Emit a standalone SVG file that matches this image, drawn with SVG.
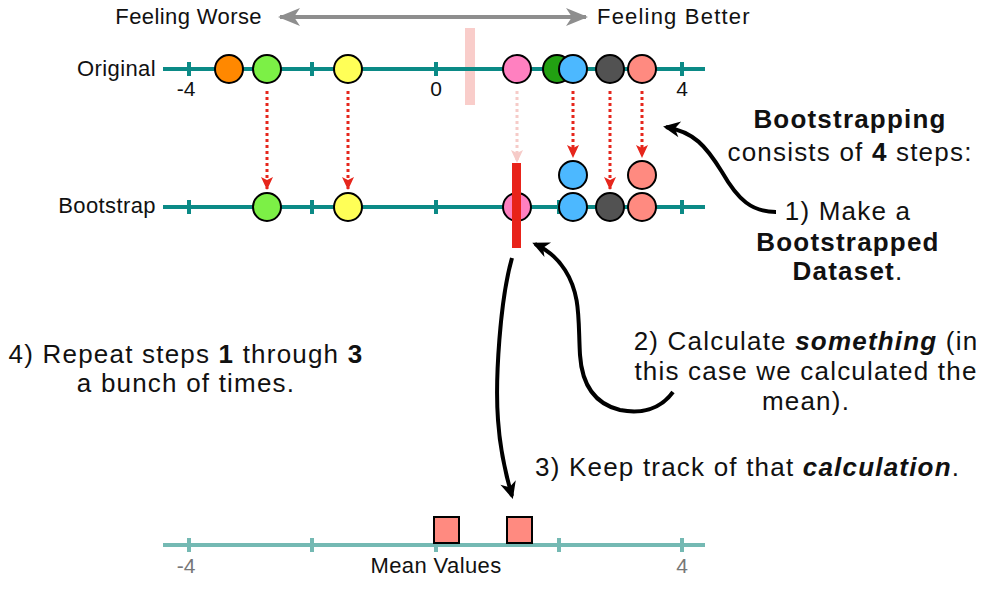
<svg xmlns="http://www.w3.org/2000/svg" width="1001" height="613" viewBox="0 0 1001 613">
<style>
text{font-family:"Liberation Sans",Arial,sans-serif;fill:#111}
.lbl{font-size:22px;letter-spacing:0.4px}
.num{font-size:21px;text-anchor:middle}
.big{font-size:26px;letter-spacing:1.2px}
.b{font-weight:bold}
.bi{font-weight:bold;font-style:italic}
.axis{stroke:#0b8a86;stroke-width:4;fill:none}
.axis2{stroke:#74b9b3;stroke-width:4;fill:none}
.dot{stroke:#000;stroke-width:2}
.dash{stroke:#e6261c;stroke-width:3;stroke-dasharray:3 3;fill:none}
.curve{stroke:#000;stroke-width:4;fill:none}
</style>
<defs>
<marker id="ah" markerUnits="userSpaceOnUse" markerWidth="20" markerHeight="20" viewBox="0 0 20 20" refX="15" refY="10" orient="auto">
<path d="M1,2 L18,10 L1,18 L6,10 z" fill="#000"/>
</marker>
<marker id="gh" markerUnits="userSpaceOnUse" markerWidth="24" markerHeight="24" viewBox="0 0 24 24" refX="20" refY="12" orient="auto-start-reverse">
<path d="M0,3 L22,12 L0,21 L6,12 z" fill="#8e8e8e"/>
</marker>
<marker id="rh" markerUnits="userSpaceOnUse" markerWidth="14" markerHeight="14" viewBox="0 0 14 14" refX="12" refY="7" orient="auto">
<path d="M0,1 L13,7 L0,13 L3,7 z" fill="#e6261c"/>
</marker>
<marker id="ph" markerUnits="userSpaceOnUse" markerWidth="14" markerHeight="14" viewBox="0 0 14 14" refX="12" refY="7" orient="auto">
<path d="M0,1 L13,7 L0,13 L3,7 z" fill="#f6cbc8"/>
</marker>
</defs>

<g id="header">
<text class="lbl" x="262" y="24" text-anchor="end">Feeling Worse</text>
<text class="lbl" x="597" y="24" style="letter-spacing:1.2px">Feeling Better</text>
<line x1="280" y1="17" x2="586" y2="17" stroke="#8e8e8e" stroke-width="4" marker-start="url(#gh)" marker-end="url(#gh)"/>
</g>

<g id="original-axis">
<rect x="465" y="28" width="10" height="77" fill="#f9cdca"/>
<text class="lbl" x="156" y="76" text-anchor="end">Original</text>
<line class="axis" x1="163" y1="69" x2="705" y2="69"/>
<path class="axis" d="M189,62V76M312,62V76M436,62V76M559,62V76M682,62V76"/>
<text class="num" x="186" y="96">-4</text>
<text class="num" x="436" y="96">0</text>
<text class="num" x="682" y="96">4</text>
<circle class="dot" cx="229" cy="69" r="14" fill="#ff8800"/>
<circle class="dot" cx="267" cy="69" r="14" fill="#7cf046"/>
<circle class="dot" cx="348" cy="69" r="14" fill="#ffff57"/>
<circle class="dot" cx="517" cy="69" r="14" fill="#ff80c0"/>
<circle class="dot" cx="557" cy="69" r="14" fill="#22a012"/>
<circle class="dot" cx="573" cy="69" r="14" fill="#4cb8ff"/>
<circle class="dot" cx="610" cy="69" r="14" fill="#525252"/>
<circle class="dot" cx="642" cy="69" r="14" fill="#ff8a80"/>
</g>

<g id="connectors">
<line class="dash" x1="267" y1="91" x2="267" y2="189" marker-end="url(#rh)"/>
<line class="dash" x1="348" y1="91" x2="348" y2="189" marker-end="url(#rh)"/>
<line class="dash" x1="517" y1="91" x2="517" y2="162" style="stroke:#f6cbc8" marker-end="url(#ph)"/>
<line class="dash" x1="573" y1="91" x2="573" y2="157" marker-end="url(#rh)"/>
<line class="dash" x1="610" y1="91" x2="610" y2="189" marker-end="url(#rh)"/>
<line class="dash" x1="642" y1="91" x2="642" y2="157" marker-end="url(#rh)"/>
<path class="curve" d="M776,212 C752,212 738,200 722,172 C706,146 694,132 666,127" marker-end="url(#ah)"/>
<path class="curve" d="M673,392 C660,410 640,414 620,410 C595,404 582,385 580,355 C578,320 581,295 565,270 C556,256 546,249 535,244" marker-end="url(#ah)"/>
<path class="curve" d="M512,258 C500,300 495,380 498,420 C500,450 505,472 512,496" marker-end="url(#ah)"/>
</g>

<g id="bootstrap-axis">
<text class="lbl" x="156" y="213" text-anchor="end">Bootstrap</text>
<line class="axis" x1="163" y1="207" x2="705" y2="207"/>
<path class="axis" d="M189,200V214M312,200V214M436,200V214M559,200V214M682,200V214"/>
<circle class="dot" cx="267" cy="207" r="14" fill="#7cf046"/>
<circle class="dot" cx="348" cy="207" r="14" fill="#ffff57"/>
<circle class="dot" cx="517" cy="207" r="14" fill="#ff80c0"/>
<circle class="dot" cx="573" cy="207" r="14" fill="#4cb8ff"/>
<circle class="dot" cx="573" cy="175" r="14" fill="#4cb8ff"/>
<circle class="dot" cx="610" cy="207" r="14" fill="#525252"/>
<circle class="dot" cx="642" cy="207" r="14" fill="#ff8a80"/>
<circle class="dot" cx="642" cy="175" r="14" fill="#ff8a80"/>
<rect x="512" y="163" width="9" height="85" fill="#e8231a"/>
</g>

<g id="mean-axis">
<line class="axis2" x1="163" y1="545" x2="705" y2="545"/>
<path class="axis2" d="M189,538V552M312,538V552M436,538V552M559,538V552M682,538V552"/>
<text class="num" x="186" y="573" style="fill:#777">-4</text>
<text class="num" x="682" y="573" style="fill:#777">4</text>
<text class="lbl" x="436" y="573" text-anchor="middle">Mean Values</text>
<rect x="434" y="517" width="25" height="26" fill="#ff8a80" stroke="#000" stroke-width="2"/>
<rect x="507" y="517" width="25" height="26" fill="#ff8a80" stroke="#000" stroke-width="2"/>
</g>

<g id="step-intro">
<text class="big b" x="850" y="128" text-anchor="middle">Bootstrapping</text>
<text class="big" x="850" y="161" text-anchor="middle">consists of <tspan class="b">4</tspan> steps:</text>
</g>
<g id="step1">
<text class="big" x="848" y="220" text-anchor="middle">1) Make a</text>
<text class="big b" x="848" y="251" text-anchor="middle">Bootstrapped</text>
<text class="big" x="848" y="280" text-anchor="middle"><tspan class="b">Dataset</tspan>.</text>
</g>
<g id="step2">
<text class="big" x="806" y="350" text-anchor="middle">2) Calculate <tspan class="bi">something</tspan> (in</text>
<text class="big" x="806" y="380" text-anchor="middle">this case we calculated the</text>
<text class="big" x="806" y="410" text-anchor="middle">mean).</text>
</g>
<g id="step3">
<text class="big" x="535" y="476">3) Keep track of that <tspan class="bi">calculation</tspan>.</text>
</g>
<g id="step4">
<text class="big" x="186" y="363" text-anchor="middle">4) Repeat steps <tspan class="b">1</tspan> through <tspan class="b">3</tspan></text>
<text class="big" x="186" y="392" text-anchor="middle">a bunch of times.</text>
</g>
</svg>
